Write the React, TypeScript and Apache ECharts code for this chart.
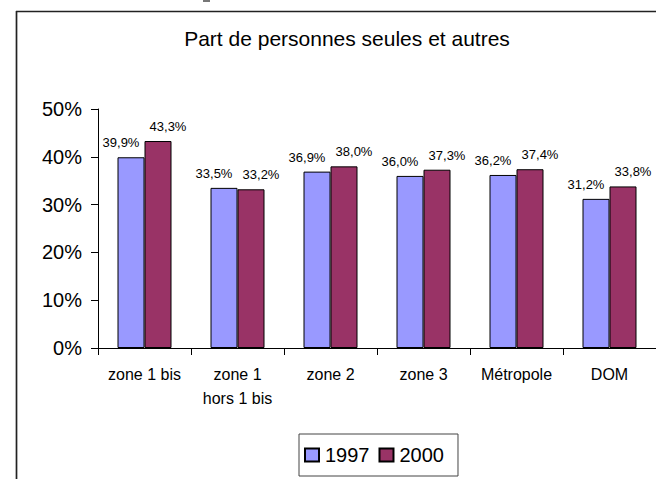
import React, { useEffect, useRef } from "react";
import * as echarts from "echarts";

const categories = ["zone 1 bis", "zone 1\nhors 1 bis", "zone 2", "zone 3", "Métropole", "DOM"];
const values1997 = [39.9, 33.5, 36.9, 36.0, 36.2, 31.2];
const values2000 = [43.3, 33.2, 38.0, 37.3, 37.4, 33.8];
const seriesNames = ["1997", "2000"];
const titleText = "Part de personnes seules et autres";

const FONT = "'Liberation Sans', Arial, sans-serif";

const fmt = (v: number) => v.toFixed(1).replace(".", ",") + "%";

export default function App() {
  const ref = useRef<HTMLDivElement>(null);
  useEffect(() => {
    document.body.style.margin = "0";
    if (!ref.current) return;
    const chart = echarts.init(ref.current, null, { renderer: "svg" });
    const labelBase = {
      show: true,
      position: "top",
      distance: 8,
      fontSize: 13,
      fontFamily: FONT,
      color: "#000",
      formatter: (p: any) => fmt(p.value),
    };
    chart.setOption({
      animation: false,
      backgroundColor: "#fff",
      textStyle: { fontFamily: FONT },
      grid: { left: 98, right: 0, top: 109, bottom: 131, containLabel: false },
      xAxis: {
        type: "category",
        data: categories,
        axisLine: { lineStyle: { color: "#000", width: 1 } },
        axisTick: { show: true, length: 7, lineStyle: { color: "#000" } },
        axisLabel: {
          fontSize: 16,
          lineHeight: 24,
          color: "#000",
          margin: 14,
          fontFamily: FONT,
          interval: 0,
        },
      },
      yAxis: {
        type: "value",
        min: 0,
        max: 50,
        interval: 10,
        axisLine: { show: true, lineStyle: { color: "#000", width: 1 } },
        axisTick: { show: true, length: 7, lineStyle: { color: "#000" } },
        splitLine: { show: false },
        axisLabel: {
          formatter: "{value}%",
          fontSize: 20,
          color: "#000",
          margin: 16,
          fontFamily: FONT,
        },
      },
      legend: {
        data: seriesNames,
        left: 299,
        top: 434,
        orient: "horizontal",
        itemWidth: 14,
        itemHeight: 13,
        itemGap: 9,
        padding: [11, 14, 11, 5],
        borderColor: "#444",
        borderWidth: 1,
        icon: "rect",
        textStyle: { fontSize: 20, lineHeight: 20, color: "#000", fontFamily: FONT, padding: [0, 0, 0, 1] },
      },
      series: [
        {
          name: seriesNames[0],
          type: "bar",
          data: values1997,
          barWidth: 27,
          barGap: "0%",
          itemStyle: { color: "#9999FF", borderColor: "#000", borderWidth: 1 },
          label: { ...labelBase, offset: [-10, 0] },
        },
        {
          name: seriesNames[1],
          type: "bar",
          data: values2000,
          barWidth: 27,
          barGap: "0%",
          itemStyle: { color: "#993366", borderColor: "#000", borderWidth: 1 },
          label: { ...labelBase, offset: [10, 0] },
        },
      ],
      graphic: [
        {
          type: "line",
          shape: { x1: 16.5, y1: 11, x2: 16.5, y2: 479 },
          style: { stroke: "#222", lineWidth: 1.7 },
        },
        {
          type: "line",
          shape: { x1: 16, y1: 11.5, x2: 656, y2: 11.5 },
          style: { stroke: "#222", lineWidth: 1.5 },
        },
        {
          type: "rect",
          shape: { x: 203, y: 0, width: 7, height: 2 },
          style: { fill: "#777" },
        },
        {
          type: "text",
          x: 347,
          y: 38,
          style: {
            text: titleText,
            font: `21px ${FONT}`,
            fill: "#000",
            textAlign: "center",
            textVerticalAlign: "middle",
          },
        },
      ],
    });
    return () => chart.dispose();
  }, []);
  return <div ref={ref} style={{ width: 656, height: 479 }} />;
}
